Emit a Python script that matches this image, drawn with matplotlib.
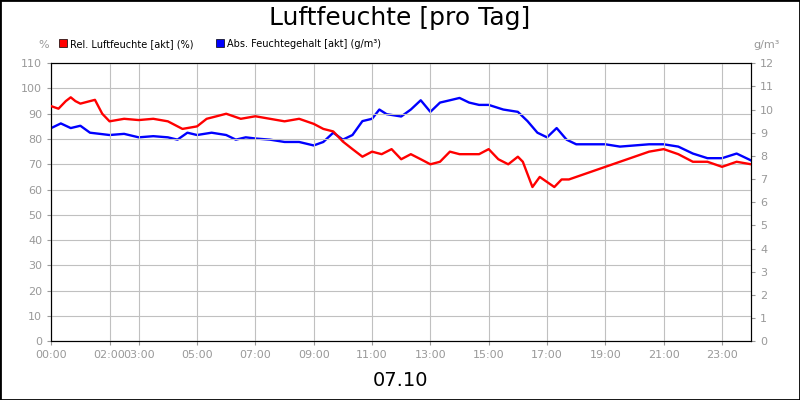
import numpy as np
from matplotlib import pyplot as plt
from matplotlib.patches import Rectangle

# hours since 00:00
rel_t = [0, .25, .5, .67, .83, 1, 1.33, 1.5, 1.75, 2, 2.5, 3, 3.5, 4, 4.5, 5, 5.33, 5.67, 6, 6.5,
         7, 7.5, 8, 8.5, 9, 9.33, 9.67, 10, 10.33, 10.67, 11, 11.33, 11.67, 12, 12.33, 12.67, 13,
         13.33, 13.67, 14, 14.33, 14.67, 15, 15.33, 15.67, 16, 16.17, 16.5, 16.75, 17, 17.25, 17.5,
         17.75, 18, 18.5, 19, 19.5, 20, 20.5, 21, 21.5, 22, 22.5, 23, 23.5, 24]
rel_v = [93, 92, 95, 96.5, 95, 94, 95, 95.5, 90, 87, 88, 87.5, 88, 87, 84, 85, 88, 89, 90, 88,
         89, 88, 87, 88, 86, 84, 83, 79, 76, 73, 75, 74, 76, 72, 74, 72, 70,
         71, 75, 74, 74, 74, 76, 72, 70, 73, 71, 61, 65, 63, 61, 64,
         64, 65, 67, 69, 71, 73, 75, 76, 74, 71, 71, 69, 71, 70]

abs_t = [0, .33, .67, 1, 1.33, 2, 2.5, 3, 3.5, 4, 4.33, 4.67, 5, 5.5, 6, 6.33, 6.67, 7, 7.5, 8,
         8.5, 9, 9.33, 9.67, 10, 10.33, 10.67, 11, 11.25, 11.5, 12, 12.33, 12.67, 13, 13.33, 13.67,
         14, 14.33, 14.67, 15, 15.5, 16, 16.33, 16.67, 17, 17.33, 17.67, 18, 18.5, 19, 19.5, 20,
         20.5, 21, 21.5, 22, 22.5, 23, 23.5, 24]
abs_v = [9.2, 9.4, 9.2, 9.3, 9.0, 8.9, 8.95, 8.8, 8.85, 8.8, 8.7, 9.0, 8.9, 9.0, 8.9, 8.7, 8.8,
         8.75, 8.7, 8.6, 8.6, 8.45, 8.6, 9.0, 8.7, 8.9, 9.5, 9.6, 10.0, 9.8, 9.7, 10.0, 10.4, 9.9,
         10.3, 10.4, 10.5, 10.3, 10.2, 10.2, 10.0, 9.9, 9.5, 9.0, 8.8, 9.2, 8.7, 8.5, 8.5, 8.5,
         8.4, 8.45, 8.5, 8.5, 8.4, 8.1, 7.9, 7.9, 8.1, 7.8]

tick_hours = [0, 2, 3, 5, 7, 9, 11, 13, 15, 17, 19, 21, 23]
tick_labels = ["00:00", "02:00", "03:00", "05:00", "07:00", "09:00", "11:00",
               "13:00", "15:00", "17:00", "19:00", "21:00", "23:00"]

gray = "#999999"
fig = plt.figure(figsize=(8, 4), dpi=100)
fig.patches.append(Rectangle((0, 0), 1, 1, transform=fig.transFigure, fill=False,
                             edgecolor="black", linewidth=2))
ax = fig.add_axes([0.064, 0.147, 0.875, 0.695])
ax2 = ax.twinx()

ax.plot(rel_t, rel_v, color="#ff0000", lw=1.7, zorder=3)
ax2.plot(abs_t, abs_v, color="#0000ff", lw=1.7)
ax.set_zorder(ax2.get_zorder() + 1)
ax.patch.set_visible(False)

ax.set_xlim(0, 24)
ax.set_ylim(0, 110)
ax2.set_ylim(0, 12)
ax.set_yticks(range(0, 111, 10))
ax2.set_yticks(range(0, 13))
ax.set_xticks(tick_hours)
ax.set_xticklabels(tick_labels)
ax.grid(True, color="#c0c0c0", lw=0.8)
for a in (ax, ax2):
    a.tick_params(labelsize=8, colors=gray, length=3)
    for s in a.spines.values():
        s.set_color("black")

fig.text(0.5, 0.955, "Luftfeuchte [pro Tag]", ha="center", va="center", fontsize=18)
fig.text(0.5, 0.05, "07.10", ha="center", va="center", fontsize=14)
fig.text(0.055, 0.88, "%", color=gray, fontsize=8, ha="center")
fig.text(0.958, 0.88, "g/m³", color=gray, fontsize=8, ha="center")

fig.patches.append(Rectangle((0.074, 0.882), 0.01, 0.02, transform=fig.transFigure,
                             facecolor="#ff0000", edgecolor="black", lw=0.5))
fig.text(0.088, 0.89, "Rel. Luftfeuchte [akt] (%)", fontsize=7, va="center")
fig.patches.append(Rectangle((0.27, 0.882), 0.01, 0.02, transform=fig.transFigure,
                             facecolor="#0000ff", edgecolor="black", lw=0.5))
fig.text(0.284, 0.89, "Abs. Feuchtegehalt [akt] (g/m³)", fontsize=7, va="center")

fig.savefig("out.png")
